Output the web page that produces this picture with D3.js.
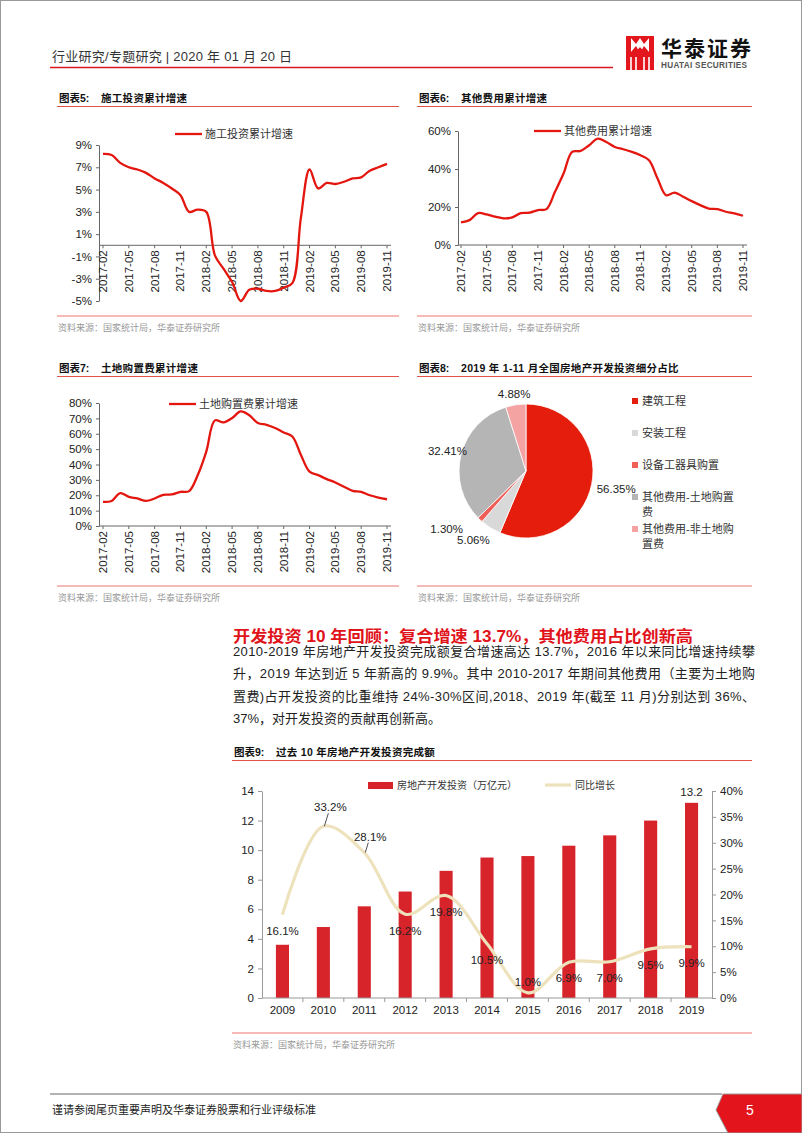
<!DOCTYPE html>
<html>
<head>
<meta charset="utf-8">
<script src="https://cdn.jsdelivr.net/npm/d3@7"></script>
<style>
body { margin: 0; background: #fff; }
svg text { font-family: "Liberation Sans", "Noto Sans CJK SC", sans-serif; }
</style>
</head>
<body>
<svg id="page" width="802" height="1133"></svg>
<script>
// ---- data ----
var months = ["2017-02","2017-03","2017-04","2017-05","2017-06","2017-07","2017-08","2017-09","2017-10","2017-11","2017-12",
  "2018-01","2018-02","2018-03","2018-04","2018-05","2018-06","2018-07","2018-08","2018-09","2018-10","2018-11","2018-12",
  "2019-01","2019-02","2019-03","2019-04","2019-05","2019-06","2019-07","2019-08","2019-09","2019-10","2019-11"];
var tickMonths = ["2017-02","2017-05","2017-08","2017-11","2018-02","2018-05","2018-08","2018-11","2019-02","2019-05","2019-08","2019-11"];

// 施工投资累计增速 (%)
var constructionGrowth = [8.2,8.1,7.4,7.0,6.8,6.5,6.0,5.6,5.1,4.5,3.0,3.2,3.0,-0.9,-2.1,-3.3,-5.0,-4.0,-3.9,-4.1,-4.1,-3.8,-3.4,2.5,6.8,5.1,5.6,5.5,5.7,6.0,6.1,6.7,7.0,7.3];
// 其他费用累计增速 (%)
var otherCostGrowth = [11.9,13.1,16.8,16.1,14.9,14.0,14.5,16.8,17.0,18.4,18.9,28.0,37.6,49.0,49.5,52.5,56.0,54.2,51.6,50.4,49.0,47.2,44.6,35.0,26.2,27.6,25.4,23.1,21.0,19.2,18.9,17.5,16.6,15.4];
// 土地购置费累计增速 (%)
var landCostGrowth = [15.7,16.3,21.4,19.0,17.9,16.3,17.9,20.3,20.5,22.2,22.7,33.0,48.4,68.7,67.4,70.2,74.5,72.0,67.0,65.8,63.7,60.8,58.2,46.2,35.3,33.1,30.5,28.3,25.5,22.9,22.2,20.0,18.5,17.4];

var pieNames = ["建筑工程","安装工程","设备工器具购置","其他费用-土地购置费","其他费用-非土地购置费"];
var pieLegendLines = [["建筑工程"],["安装工程"],["设备工器具购置"],["其他费用-土地购置","费"],["其他费用-非土地购","置费"]];
var pieShares = [56.35, 5.06, 1.30, 32.41, 4.88];
var pieColors = ["#e41d0c","#d9d9d9","#ef5f58","#b5b5b5","#f4a2a2"];

var years = ["2009","2010","2011","2012","2013","2014","2015","2016","2017","2018","2019"];
var investment = [3.6, 4.8, 6.2, 7.2, 8.6, 9.5, 9.6, 10.3, 11.0, 12.0, 13.2]; // 万亿元
var yoyGrowth = [16.1, 33.2, 28.1, 16.2, 19.8, 10.5, 1.0, 6.9, 7.0, 9.5, 9.9]; // %
// label placement for the yoy labels (offset from the point)
var yoyLabelDx = [0, 7, 6, 0, 0, 0, 0, 0, 0, 0, 0];
var yoyLabelDy = [16, -19, -16, 17, 16, 16, -11, 16, 16, 16, 16];
var yoyLeader = [false, true, true, false, false, false, false, false, false, false, false];

var svg = d3.select("#page");
var RED = "#e3170f";
var SRC = "资料来源：国家统计局，华泰证券研究所";

// page frame
svg.append("rect").attr("x", 0.5).attr("y", 0.5).attr("width", 801).attr("height", 1132)
  .attr("fill", "#fff").attr("stroke", "#999");

// ---- header ----
svg.append("text").attr("x", 52).attr("y", 61).attr("font-size", 13).attr("fill", "#333")
  .attr("textLength", 240).attr("lengthAdjust", "spacing")
  .text("行业研究/专题研究 | 2020 年 01 月 20 日");
svg.append("line").attr("x1", 50).attr("x2", 613).attr("y1", 67.5).attr("y2", 67.5)
  .attr("stroke", "#d9161c").attr("stroke-width", 1.5);

// logo
var logo = svg.append("g");
logo.append("rect").attr("x", 626).attr("y", 36).attr("width", 28).attr("height", 34).attr("fill", "#e3161d");
logo.append("path").attr("d", "M631,38 L636,44 L640,38 L644,44 L649,38 L649,52 L644,46 L640,53 L636,46 L631,52 Z").attr("fill", "#fff");
logo.append("path").attr("d", "M640,47 L645,53 L640,59 L635,53 Z").attr("fill", "#e3161d");
[631, 636, 644, 649].forEach(function(x) {
  logo.append("rect").attr("x", x - 0.8).attr("y", 57).attr("width", 1.6).attr("height", 13).attr("fill", "#fff");
});
logo.append("text").attr("x", 661).attr("y", 56).attr("font-size", 21).attr("font-weight", "bold")
  .attr("fill", "#111").attr("textLength", 90).attr("font-family", "Noto Sans CJK SC").text("华泰证券");
logo.append("text").attr("x", 661).attr("y", 68).attr("font-size", 8.2).attr("font-weight", "bold")
  .attr("fill", "#555").attr("textLength", 86).text("HUATAI SECURITIES");

// ---- chart helpers ----
function chartFrame(x1, x2, titleY, srcLineY, num, title) {
  svg.append("text").attr("x", x1 + 2).attr("y", titleY).attr("font-size", 10.5).attr("font-weight", "bold")
    .attr("fill", "#111").text("图表" + num + ":");
  svg.append("text").attr("x", x1 + 44).attr("y", titleY).attr("font-size", 10.5).attr("font-weight", "bold")
    .attr("fill", "#111").attr("letter-spacing", 0.3).text(title);
  svg.append("line").attr("x1", x1).attr("x2", x2).attr("y1", titleY + 4.5).attr("y2", titleY + 4.5)
    .attr("stroke", "#e4514b").attr("stroke-width", 1);
  svg.append("line").attr("x1", x1).attr("x2", x2).attr("y1", srcLineY).attr("y2", srcLineY)
    .attr("stroke", "#ec7772").attr("stroke-width", 1);
  svg.append("text").attr("x", x1 + 1).attr("y", srcLineY + 15).attr("font-size", 9).attr("fill", "#999")
    .text(SRC);
}

function lineChart(c) {
  var x = d3.scalePoint().domain(months).range([c.x0, c.x1]);
  var y = d3.scaleLinear().domain(c.yDomain).range([c.yBottom, c.yTop]);
  var g = svg.append("g");

  var ya = g.append("g").attr("transform", "translate(" + c.axisX + ",0)")
    .call(d3.axisLeft(y).tickValues(c.yTicks).tickSize(3).tickSizeOuter(0).tickFormat(function(d) { return d + "%"; }));
  ya.select(".domain").attr("stroke", "#666");
  ya.selectAll(".tick line").attr("stroke", "#666");
  ya.selectAll(".tick text").attr("font-size", 11.5).attr("fill", "#222").attr("x", -7)
    .attr("font-family", "Liberation Sans");

  var y0 = y(0);
  g.append("line").attr("x1", c.axisX).attr("x2", c.x1 + 4).attr("y1", y0).attr("y2", y0).attr("stroke", "#666");
  g.selectAll(".xt").data(tickMonths).join("line")
    .attr("x1", function(d) { return x(d); }).attr("x2", function(d) { return x(d); })
    .attr("y1", y0).attr("y2", y0 + 3).attr("stroke", "#666");
  g.selectAll(".xl").data(tickMonths).join("text")
    .attr("transform", function(d) { return "translate(" + x(d) + "," + (y0 + 5) + ") rotate(-90)"; })
    .attr("text-anchor", "end").attr("dy", "0.35em").attr("font-size", 11.5).attr("fill", "#222")
    .text(function(d) { return d; });

  var line = d3.line()
    .x(function(d, i) { return x(months[i]); })
    .y(function(d) { return y(d); })
    .curve(d3.curveCatmullRom.alpha(0.5));
  g.append("path").datum(c.values).attr("d", line).attr("fill", "none")
    .attr("stroke", RED).attr("stroke-width", 2.3);

  g.append("line").attr("x1", c.legendX).attr("x2", c.legendX + 27).attr("y1", c.legendY).attr("y2", c.legendY)
    .attr("stroke", RED).attr("stroke-width", 2.3);
  g.append("text").attr("x", c.legendX + 30).attr("y", c.legendY + 4).attr("font-size", 11).attr("fill", "#333")
    .text(c.legendText);
}

// ---- chart 5 ----
chartFrame(57, 399, 102, 316, 5, "施工投资累计增速");
lineChart({ axisX: 99, x0: 103, x1: 387, yTop: 145, yBottom: 301, yDomain: [-5, 9],
  yTicks: [-5, -3, -1, 1, 3, 5, 7, 9], values: constructionGrowth,
  legendX: 175, legendY: 134, legendText: "施工投资累计增速" });

// ---- chart 6 ----
chartFrame(417, 752, 102, 316, 6, "其他费用累计增速");
lineChart({ axisX: 458, x0: 461, x1: 743, yTop: 131, yBottom: 245, yDomain: [0, 60],
  yTicks: [0, 20, 40, 60], values: otherCostGrowth,
  legendX: 534, legendY: 131, legendText: "其他费用累计增速" });

// ---- chart 7 ----
chartFrame(57, 399, 372, 586, 7, "土地购置费累计增速");
lineChart({ axisX: 99, x0: 103, x1: 387, yTop: 403, yBottom: 526, yDomain: [0, 80],
  yTicks: [0, 10, 20, 30, 40, 50, 60, 70, 80], values: landCostGrowth,
  legendX: 169, legendY: 404, legendText: "土地购置费累计增速" });

// ---- chart 8 (pie) ----
chartFrame(417, 752, 372, 586, 8, "2019 年 1-11 月全国房地产开发投资细分占比");
(function() {
  var cx = 526, cy = 471, r = 67;
  var pie = d3.pie().sort(null).value(function(d) { return d; });
  var arcs = pie(pieShares);
  var arc = d3.arc().innerRadius(0).outerRadius(r);
  var g = svg.append("g").attr("transform", "translate(" + cx + "," + cy + ")");
  g.selectAll("path").data(arcs).join("path").attr("d", arc)
    .attr("fill", function(d, i) { return pieColors[i]; })
    .attr("stroke", "#fff").attr("stroke-width", 0.8);

  var labelR = [92, 88, 98, 81, 78];
  var nudge = [[0, 0], [-6, -6], [-12, -13], [0, 0], [0, 0]];
  g.selectAll(".pl").data(arcs).join("text")
    .attr("x", function(d, i) { var a = (d.startAngle + d.endAngle) / 2; return Math.sin(a) * labelR[i] + nudge[i][0]; })
    .attr("y", function(d, i) { var a = (d.startAngle + d.endAngle) / 2; return -Math.cos(a) * labelR[i] + nudge[i][1] + 4; })
    .attr("text-anchor", "middle").attr("font-size", 11.5).attr("fill", "#222")
    .text(function(d) { return d.data.toFixed(2) + "%"; });

  var lg = svg.append("g");
  var ly = [401, 433, 465, 497, 529];
  pieNames.forEach(function(n, i) {
    lg.append("rect").attr("x", 632).attr("y", ly[i] - 3).attr("width", 6).attr("height", 6).attr("fill", pieColors[i]);
    pieLegendLines[i].forEach(function(t, j) {
      lg.append("text").attr("x", 642).attr("y", ly[i] + 4 + j * 15).attr("font-size", 11).attr("fill", "#333").text(t);
    });
  });
})();

// ---- text block ----
svg.append("text").attr("x", 233).attr("y", 642).attr("font-size", 16).attr("font-weight", "bold")
  .attr("fill", "#e0121a").attr("textLength", 460).attr("lengthAdjust", "spacingAndGlyphs")
  .text("开发投资 10 年回顾：复合增速 13.7%，其他费用占比创新高");
var paraLines = [
  "2010-2019 年房地产开发投资完成额复合增速高达 13.7%，2016 年以来同比增速持续攀",
  "升，2019 年达到近 5 年新高的 9.9%。其中 2010-2017 年期间其他费用（主要为土地购",
  "置费)占开发投资的比重维持 24%-30%区间,2018、2019 年(截至 11 月)分别达到 36%、",
  "37%，对开发投资的贡献再创新高。"
];
paraLines.forEach(function(t, i) {
  var tx = svg.append("text").attr("x", 233).attr("y", 656 + i * 22.3).attr("font-size", 13).attr("fill", "#222").text(t);
  if (i < 3) tx.attr("textLength", 522).attr("lengthAdjust", "spacing");
});

// ---- chart 9 ----
chartFrame(232, 752, 756, 1033, 9, "过去 10 年房地产开发投资完成额");
(function() {
  var left = 262, right = 712, top = 791, bottom = 998;
  var x = d3.scaleBand().domain(years).range([left, right]).paddingInner(0.68).paddingOuter(0.34);
  var yL = d3.scaleLinear().domain([0, 14]).range([bottom, top]);
  var yR = d3.scaleLinear().domain([0, 40]).range([bottom, top]);
  var g = svg.append("g");

  var al = g.append("g").attr("transform", "translate(" + left + ",0)")
    .call(d3.axisLeft(yL).tickValues(d3.range(0, 15, 2)).tickSize(4).tickSizeOuter(0));
  var ar = g.append("g").attr("transform", "translate(" + right + ",0)")
    .call(d3.axisRight(yR).tickValues(d3.range(0, 41, 5)).tickSize(4).tickSizeOuter(0)
      .tickFormat(function(d) { return d + "%"; }));
  [al, ar].forEach(function(a) {
    a.select(".domain").attr("stroke", "#999");
    a.selectAll(".tick line").attr("stroke", "#999");
    a.selectAll(".tick text").attr("font-size", 11.5).attr("fill", "#222").attr("font-family", "Liberation Sans");
  });
  al.selectAll(".tick text").attr("x", -8);
  ar.selectAll(".tick text").attr("x", 8);

  g.selectAll(".bar").data(investment).join("rect")
    .attr("x", function(d, i) { return x(years[i]); })
    .attr("width", x.bandwidth())
    .attr("y", function(d) { return yL(d); })
    .attr("height", function(d) { return bottom - yL(d); })
    .attr("fill", "#d7242b");

  g.append("line").attr("x1", left).attr("x2", right).attr("y1", bottom).attr("y2", bottom).attr("stroke", "#999");
  var bounds = years.slice(1).map(function(yv) { return x(yv) - x.step() * x.paddingInner() / 2; });
  g.selectAll(".xt").data(bounds).join("line")
    .attr("x1", function(d) { return d; }).attr("x2", function(d) { return d; })
    .attr("y1", bottom).attr("y2", bottom + 4).attr("stroke", "#999");
  g.selectAll(".xl").data(years).join("text")
    .attr("x", function(d) { return x(d) + x.bandwidth() / 2; }).attr("y", bottom + 16)
    .attr("text-anchor", "middle").attr("font-size", 11.5).attr("fill", "#222").text(function(d) { return d; });

  var cxf = function(i) { return x(years[i]) + x.bandwidth() / 2; };
  var line = d3.line().x(function(d, i) { return cxf(i); }).y(function(d) { return yR(d); })
    .curve(d3.curveCatmullRom.alpha(0.5));
  g.append("path").datum(yoyGrowth).attr("d", line).attr("fill", "none")
    .attr("stroke", "#ede2bc").attr("stroke-width", 3.2);

  yoyGrowth.forEach(function(v, i) {
    var px = cxf(i), py = yR(v);
    var lx = px + yoyLabelDx[i], lyc = py + yoyLabelDy[i];
    if (yoyLeader[i]) {
      g.append("line").attr("x1", px + 1).attr("y1", py).attr("x2", lx - 2).attr("y2", lyc + 6)
        .attr("stroke", "#222").attr("stroke-width", 0.8);
    }
    g.append("text").attr("x", lx).attr("y", lyc + 4).attr("text-anchor", "middle")
      .attr("font-size", 11.5).attr("fill", "#222").text(v.toFixed(1) + "%");
  });

  var last = investment.length - 1;
  g.append("text").attr("x", cxf(last)).attr("y", yL(investment[last]) - 7).attr("text-anchor", "middle")
    .attr("font-size", 11.5).attr("fill", "#222").text(investment[last].toFixed(1));

  // legend
  g.append("rect").attr("x", 368).attr("y", 782).attr("width", 25).attr("height", 7).attr("fill", "#d7242b");
  g.append("text").attr("x", 397).attr("y", 789).attr("font-size", 10).attr("fill", "#333").text("房地产开发投资（万亿元）");
  g.append("line").attr("x1", 545).attr("x2", 571).attr("y1", 785).attr("y2", 785)
    .attr("stroke", "#ede2bc").attr("stroke-width", 3.2);
  g.append("text").attr("x", 575).attr("y", 789).attr("font-size", 10).attr("fill", "#333").text("同比增长");
})();

// ---- footer ----
svg.append("line").attr("x1", 50).attr("x2", 722).attr("y1", 1094).attr("y2", 1094)
  .attr("stroke", "#999").attr("stroke-width", 1.5);
svg.append("path").attr("d", "M723,1094 L802,1094 L802,1133 L728,1133 L716,1110 Z")
  .attr("fill", "#e3141b").attr("stroke", "#999").attr("stroke-width", 1);
svg.append("text").attr("x", 750).attr("y", 1115).attr("text-anchor", "middle").attr("font-size", 14)
  .attr("fill", "#fff").text("5");
svg.append("text").attr("x", 52).attr("y", 1114).attr("font-size", 11).attr("fill", "#222")
  .text("谨请参阅尾页重要声明及华泰证券股票和行业评级标准");
</script>
</body>
</html>
